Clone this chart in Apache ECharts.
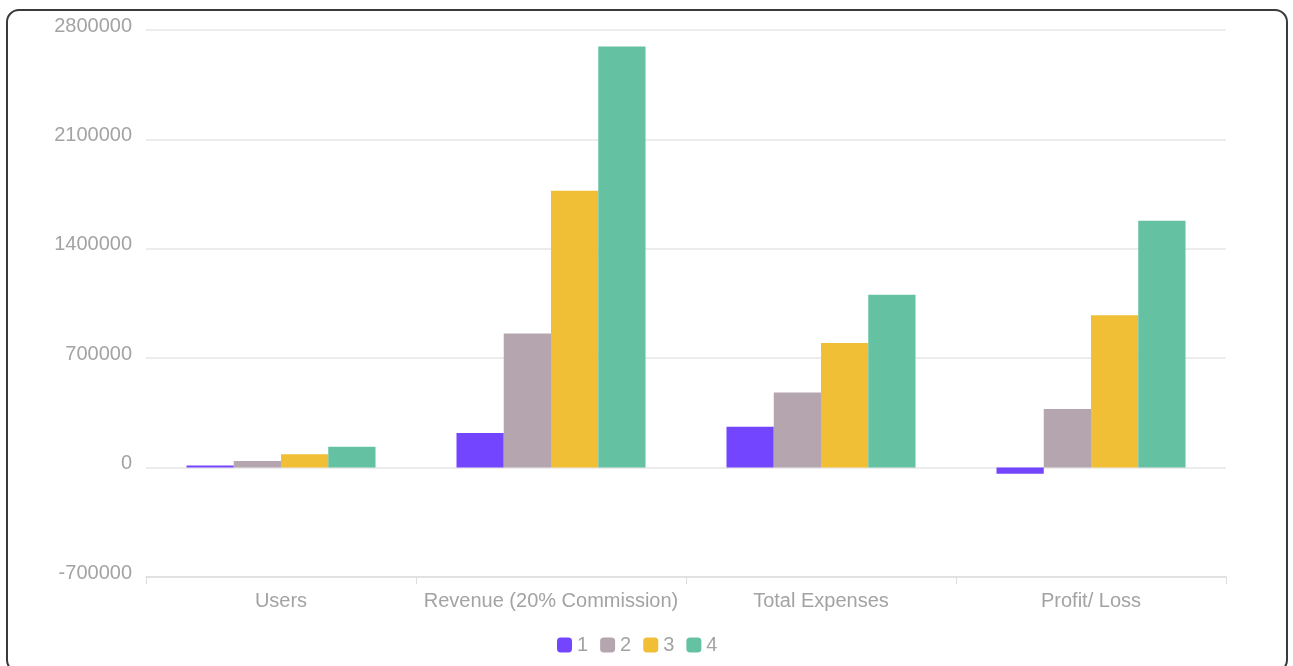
<!DOCTYPE html>
<html>
<head>
<meta charset="utf-8">
<script src="https://cdn.jsdelivr.net/npm/echarts@6/dist/echarts.min.js"></script>
<style>
  html, body { margin: 0; padding: 0; background: #ffffff; }
  body { width: 1293px; height: 666px; position: relative; overflow: hidden; }
  #frame {
    position: absolute; left: 6px; top: 9px; width: 1282px; height: 664px;
    border: 2px solid #3a3a3a; border-radius: 13px; box-sizing: border-box; background: #fff;
  }
  #chart { position: absolute; left: 0; top: 0; width: 1293px; height: 666px; }
</style>
</head>
<body>
<div id="frame"></div>
<div id="chart"></div>
<script>
// Metrics by stage
const categories = ['Users', 'Revenue (20% Commission)', 'Total Expenses', 'Profit/ Loss'];
const seriesNames = ['1', '2', '3', '4'];
const values1 = [13000, 222000, 262000, -40000];
const values2 = [43000, 858000, 480000, 375000];
const values3 = [86000, 1772000, 797000, 975000];
const values4 = [134000, 2694000, 1106000, 1580000];
const yTicks = { min: -700000, max: 2800000, step: 700000 };

const colors = ['#7445FF', '#B4A5AE', '#F0BF36', '#64C1A2'];
const allValues = [values1, values2, values3, values4];
const textColor = '#a3a3a3';
const fontFamily = '"Liberation Sans", Helvetica, Arial, sans-serif';

const chart = echarts.init(document.getElementById('chart'), null, { renderer: 'canvas' });
chart.setOption({
  animation: false,
  color: colors,
  textStyle: { fontFamily: fontFamily },
  grid: { left: 146, right: 67, top: 30, bottom: 89, containLabel: false },
  legend: {
    data: seriesNames,
    bottom: 6,
    left: 552,
    icon: 'roundRect',
    itemWidth: 15,
    itemHeight: 15,
    itemGap: 12,
    textStyle: { color: textColor, fontSize: 20, fontFamily: fontFamily }
  },
  xAxis: {
    type: 'category',
    data: categories,
    axisLine: { onZero: false, lineStyle: { color: '#dddddd', width: 1.5 } },
    axisTick: { show: true, interval: 0, length: 7, lineStyle: { color: '#dddddd' } },
    axisLabel: { color: textColor, fontSize: 20, margin: 14, interval: 0, fontFamily: fontFamily }
  },
  yAxis: {
    type: 'value',
    min: yTicks.min,
    max: yTicks.max,
    interval: yTicks.step,
    axisLine: { show: false },
    axisTick: { show: false },
    splitLine: { lineStyle: { color: '#e6e6e6', width: 1.5 } },
    axisLabel: {
      color: textColor, fontSize: 20, margin: 14, fontFamily: fontFamily,
      verticalAlign: 'bottom', lineHeight: 8,
      formatter: (v) => String(v)
    }
  },
  series: seriesNames.map((name, i) => ({
    name: name,
    type: 'bar',
    data: allValues[i],
    barGap: '0%',
    barCategoryGap: '30%',
    itemStyle: { color: colors[i] }
  }))
});
</script>
</body>
</html>
